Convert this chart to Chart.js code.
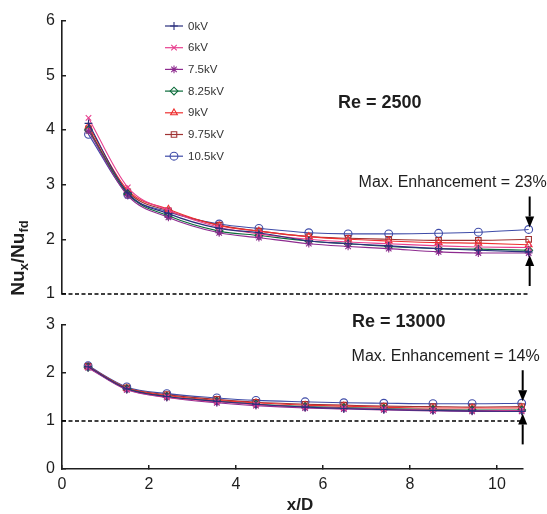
<!DOCTYPE html>
<html>
<head>
<meta charset="utf-8">
<script src="https://cdn.jsdelivr.net/npm/chart.js@4.4.0/dist/chart.umd.min.js"></script>
<style>
  html, body { margin: 0; padding: 0; background: #ffffff; }
  #wrap { position: relative; width: 547px; height: 514px; overflow: hidden; }
  #wrap canvas { position: absolute; left: 0; top: 0; }
</style>
</head>
<body>
<div id="wrap">
  <canvas id="upper" width="547" height="514"></canvas>
  <canvas id="lower" width="547" height="514"></canvas>
</div>
<script>
// Axial stations (x/D) where the local Nusselt number was measured
const xD = [0.6, 1.49, 2.41, 3.56, 4.46, 5.59, 6.48, 7.4, 8.53, 9.43, 10.57];
const voltages = ['0kV', '6kV', '7.5kV', '8.25kV', '9kV', '9.75kV', '10.5kV'];

// Nu_x / Nu_fd at Re = 2500
const re2500_0kV    = [4.12, 2.85, 2.47, 2.20, 2.12, 1.97, 1.92, 1.88, 1.83, 1.80, 1.77];
const re2500_6kV    = [4.22, 2.95, 2.53, 2.22, 2.10, 2.00, 1.95, 1.92, 1.88, 1.86, 1.85];
const re2500_7_5kV  = [3.98, 2.80, 2.40, 2.12, 2.03, 1.92, 1.87, 1.83, 1.77, 1.75, 1.75];
const re2500_8_25kV = [4.00, 2.83, 2.43, 2.15, 2.07, 1.97, 1.92, 1.87, 1.83, 1.82, 1.80];
const re2500_9kV    = [4.07, 2.90, 2.55, 2.25, 2.15, 2.05, 2.00, 1.97, 1.94, 1.93, 1.90];
const re2500_9_75kV = [4.02, 2.87, 2.52, 2.26, 2.15, 2.05, 2.02, 2.00, 1.98, 1.98, 2.00];
const re2500_10_5kV = [3.92, 2.82, 2.50, 2.28, 2.20, 2.12, 2.10, 2.10, 2.11, 2.13, 2.18];

// Nu_x / Nu_fd at Re = 13000
const re13000_0kV    = [2.13, 1.67, 1.51, 1.41, 1.35, 1.29, 1.26, 1.24, 1.22, 1.21, 1.20];
const re13000_6kV    = [2.12, 1.66, 1.50, 1.40, 1.34, 1.29, 1.27, 1.25, 1.23, 1.22, 1.22];
const re13000_7_5kV  = [2.11, 1.65, 1.49, 1.38, 1.32, 1.27, 1.25, 1.23, 1.21, 1.20, 1.20];
const re13000_8_25kV = [2.12, 1.67, 1.51, 1.41, 1.35, 1.30, 1.28, 1.26, 1.24, 1.23, 1.23];
const re13000_9kV    = [2.13, 1.68, 1.53, 1.43, 1.38, 1.33, 1.31, 1.29, 1.27, 1.27, 1.27];
const re13000_9_75kV = [2.14, 1.69, 1.55, 1.45, 1.39, 1.35, 1.33, 1.31, 1.30, 1.29, 1.30];
const re13000_10_5kV = [2.15, 1.71, 1.57, 1.48, 1.43, 1.40, 1.38, 1.37, 1.36, 1.36, 1.37];

// Fully developed reference level and axis ticks
const referenceLevel = 1;
const xTicks = [0, 2, 4, 6, 8, 10];
const yTicksUpper = [1, 2, 3, 4, 5, 6];
const yTicksLower = [0, 1, 2, 3];

const upperSeries = [re2500_0kV, re2500_6kV, re2500_7_5kV, re2500_8_25kV, re2500_9kV, re2500_9_75kV, re2500_10_5kV];
const lowerSeries = [re13000_0kV, re13000_6kV, re13000_7_5kV, re13000_8_25kV, re13000_9kV, re13000_9_75kV, re13000_10_5kV];

// ---- styling ----
const FONT = '"Liberation Sans", Arial, Helvetica, sans-serif';
const INK = '#1e1e1e';
const seriesColors = ['#2b2f7d', '#e8408f', '#8e2b8f', '#0b6b3a', '#ee3030', '#a03232', '#3f4ca8'];
const markerStyles = ['cross', 'crossRot', 'star', 'rectRot', 'triangle', 'rect', 'circle'];
const MARKER_R = 3.9;

function buildDatasets(seriesList) {
  const sets = seriesList.map((vals, i) => ({
    label: voltages[i],
    data: vals.map((v, k) => ({ x: xD[k], y: v })),
    borderColor: seriesColors[i],
    backgroundColor: 'rgba(255,255,255,0)',
    pointBorderColor: seriesColors[i],
    pointBackgroundColor: 'rgba(255,255,255,0)',
    pointStyle: markerStyles[i],
    pointRadius: MARKER_R,
    pointBorderWidth: 1.1,
    borderWidth: 1.1,
    cubicInterpolationMode: 'monotone',
    clip: false
  }));
  sets.push({
    label: 'reference',
    data: [{ x: 0, y: referenceLevel }, { x: 10.6, y: referenceLevel }],
    borderColor: '#000',
    borderDash: [4, 2.5],
    borderWidth: 1.6,
    pointRadius: 0,
    clip: false
  });
  return sets;
}

function yAxis(min, max, ticks) {
  return {
    type: 'linear', min, max,
    afterFit(s) { s.width = 62; },
    afterBuildTicks(s) { s.ticks = ticks.map(v => ({ value: v })); },
    ticks: { color: INK, font: { size: 16, family: FONT }, padding: 11 },
    grid: { drawOnChartArea: false, tickLength: -4, color: INK, lineWidth: 1.5 },
    border: { color: INK, width: 1.6 }
  };
}

function drawArrow(ctx, x, yFrom, yTip) {
  const dir = Math.sign(yTip - yFrom);
  const headLen = 11, headHalf = 4.5;
  ctx.save();
  ctx.strokeStyle = '#000';
  ctx.fillStyle = '#000';
  ctx.lineWidth = 2;
  ctx.beginPath();
  ctx.moveTo(x, yFrom);
  ctx.lineTo(x, yTip - dir * headLen);
  ctx.stroke();
  ctx.beginPath();
  ctx.moveTo(x, yTip);
  ctx.lineTo(x - headHalf, yTip - dir * headLen);
  ctx.lineTo(x + headHalf, yTip - dir * headLen);
  ctx.closePath();
  ctx.fill();
  ctx.restore();
}

// Re label, enhancement note and arrows spanning the spread at the last station
function panelNotes(reText, rePos, seriesList) {
  return {
    id: 'panelNotes',
    afterDatasetsDraw(chart) {
      const ctx = chart.ctx;
      const xs = chart.scales.x, ys = chart.scales.y;
      const last = xD.length - 1;
      const lastVals = seriesList.map(s => s[last]);
      const hi = Math.max(...lastVals), lo = Math.min(...lastVals);
      const base = seriesList[0][last];
      const pct = Math.round((hi / base - 1) * 100);
      const ax = xs.getPixelForValue(xD[last]) + 1;
      const yHi = ys.getPixelForValue(hi) - 2;
      const yLo = ys.getPixelForValue(lo) + 2;
      drawArrow(ctx, ax, yHi - 31, yHi);
      drawArrow(ctx, ax, yLo + 31, yLo);

      ctx.save();
      ctx.fillStyle = INK;
      ctx.textBaseline = 'middle';
      ctx.textAlign = 'right';
      ctx.font = '16px ' + FONT;
      ctx.fillText('Max. Enhancement = ' + pct + '%', ax + 17, yHi - 45);
      ctx.textAlign = 'left';
      ctx.font = 'bold 18px ' + FONT;
      ctx.fillText(reText, rePos[0], rePos[1]);
      ctx.restore();
    }
  };
}

const legendPlugin = {
  id: 'voltageLegend',
  afterDraw(chart) {
    const ctx = chart.ctx;
    const x0 = 165, x1 = 183, tx = 188, y0 = 26, step = 21.7;
    ctx.save();
    ctx.font = '11.5px ' + FONT;
    ctx.textBaseline = 'middle';
    ctx.textAlign = 'left';
    voltages.forEach((v, i) => {
      const y = y0 + i * step;
      ctx.strokeStyle = seriesColors[i];
      ctx.lineWidth = 1.2;
      ctx.beginPath();
      ctx.moveTo(x0, y);
      ctx.lineTo(x1, y);
      ctx.stroke();
      ctx.fillStyle = 'rgba(255,255,255,0)';
      ctx.lineWidth = 1.1;
      Chart.helpers.drawPoint(ctx, { pointStyle: markerStyles[i], radius: MARKER_R, rotation: 0, borderWidth: 1.1 }, (x0 + x1) / 2, y);
      ctx.fillStyle = '#333';
      ctx.fillText(v, tx, y + 0.5);
    });
    ctx.restore();
  }
};

const axisTitles = {
  id: 'axisTitles',
  afterDraw(chart) {
    const ctx = chart.ctx;
    ctx.save();
    ctx.fillStyle = INK;
    // x/D
    ctx.font = 'bold 17px ' + FONT;
    ctx.textAlign = 'center';
    ctx.textBaseline = 'middle';
    ctx.fillText('x/D', 300, 505);
    // Nu_x / Nu_fd, rotated
    ctx.translate(19, 258);
    ctx.rotate(-Math.PI / 2);
    const parts = [['Nu', 19, 0], ['x', 13, 5], ['/Nu', 19, 0], ['fd', 13, 5]];
    let w = 0;
    parts.forEach(p => { ctx.font = 'bold ' + p[1] + 'px ' + FONT; w += ctx.measureText(p[0]).width; });
    let x = -w / 2;
    ctx.textAlign = 'left';
    parts.forEach(p => {
      ctx.font = 'bold ' + p[1] + 'px ' + FONT;
      ctx.fillText(p[0], x, p[2]);
      x += ctx.measureText(p[0]).width;
    });
    ctx.restore();
  }
};

new Chart(document.getElementById('upper'), {
  type: 'line',
  data: { datasets: buildDatasets(upperSeries) },
  options: {
    responsive: false, animation: false, events: [],
    layout: { padding: { left: 0, top: 17, right: 17, bottom: 220 } },
    plugins: { legend: { display: false }, tooltip: { enabled: false } },
    scales: {
      x: { type: 'linear', min: 0, max: 10.6, display: false },
      y: yAxis(1, 6, yTicksUpper)
    }
  },
  plugins: [legendPlugin, panelNotes('Re = 2500', [338, 103], upperSeries)]
});

new Chart(document.getElementById('lower'), {
  type: 'line',
  data: { datasets: buildDatasets(lowerSeries) },
  options: {
    responsive: false, animation: false, events: [],
    layout: { padding: { left: 0, top: 325, right: 24, bottom: 0 } },
    plugins: { legend: { display: false }, tooltip: { enabled: false } },
    scales: {
      x: {
        type: 'linear', min: 0, max: 10.6,
        afterFit(s) { s.height = 45; },
        afterBuildTicks(s) { s.ticks = xTicks.map(v => ({ value: v })); },
        ticks: { color: INK, font: { size: 16, family: FONT }, padding: 10, maxRotation: 0 },
        grid: { drawOnChartArea: false, tickLength: -4, color: INK, lineWidth: 1.5 },
        border: { color: INK, width: 1.6 }
      },
      y: yAxis(0, 3, yTicksLower)
    }
  },
  plugins: [axisTitles, panelNotes('Re = 13000', [352, 322], lowerSeries)]
});
</script>
</body>
</html>
